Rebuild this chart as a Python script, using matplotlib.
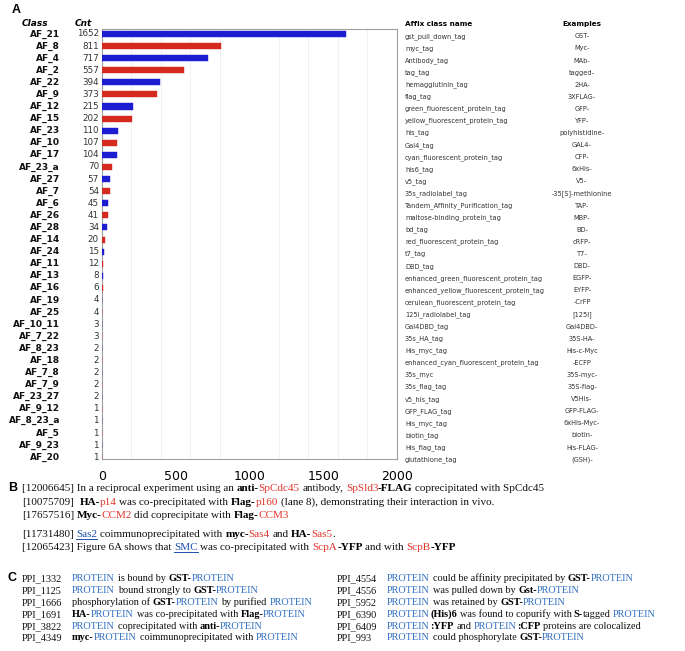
import matplotlib
matplotlib.use("Agg")
import matplotlib.pyplot as plt
from matplotlib.font_manager import FontProperties
from matplotlib.lines import Line2D
from matplotlib.textpath import text_to_path
from matplotlib.transforms import IdentityTransform, blended_transform_factory


# -----------------------------
# Panel A data
# -----------------------------
CLASSES = [
    "AF_21", "AF_8", "AF_4", "AF_2", "AF_22", "AF_9", "AF_12", "AF_15",
    "AF_23", "AF_10", "AF_17", "AF_23_a", "AF_27", "AF_7", "AF_6", "AF_26",
    "AF_28", "AF_14", "AF_24", "AF_11", "AF_13", "AF_16", "AF_19", "AF_25",
    "AF_10_11", "AF_7_22", "AF_8_23", "AF_18", "AF_7_8", "AF_7_9",
    "AF_23_27", "AF_9_12", "AF_8_23_a", "AF_5", "AF_9_23", "AF_20",
]
COUNTS = [
    1652, 811, 717, 557, 394, 373, 215, 202, 110, 107, 104, 70, 57, 54, 45,
    41, 34, 20, 15, 12, 8, 6, 4, 4, 3, 3, 2, 2, 2, 2, 2, 1, 1, 1, 1, 1,
]
AFFIX_NAMES = [
    "gst_pull_down_tag", "myc_tag", "Antibody_tag", "tag_tag",
    "hemagglutinin_tag", "flag_tag", "green_fluorescent_protein_tag",
    "yellow_fluorescent_protein_tag", "his_tag", "Gal4_tag",
    "cyan_fluorescent_protein_tag", "his6_tag", "v5_tag",
    "35s_radiolabel_tag", "Tandem_Affinity_Purification_tag",
    "maltose-binding_protein_tag", "bd_tag", "red_fluorescent_protein_tag",
    "t7_tag", "DBD_tag", "enhanced_green_fluorescent_protein_tag",
    "enhanced_yellow_fluorescent_protein_tag",
    "cerulean_fluorescent_protein_tag", "125i_radiolabel_tag", "Gal4DBD_tag",
    "35s_HA_tag", "His_myc_tag", "enhanced_cyan_fluorescent_protein_tag",
    "35s_myc", "35s_flag_tag", "v5_his_tag", "GFP_FLAG_tag", "His_myc_tag",
    "biotin_tag", "His_flag_tag", "glutathione_tag",
]
EXAMPLES = [
    "GST-", "Myc-", "MAb-", "tagged-", "2HA-", "3XFLAG-", "GFP-", "YFP-",
    "polyhistidine-", "GAL4-", "CFP-", "6xHis-", "V5-", "-35[S]-methionine",
    "TAP-", "MBP-", "BD-", "cRFP-", "T7-", "DBD-", "EGFP-", "EYFP-", "-CrFP",
    "[125I]", "Gal4DBD-", "35S-HA-", "His-c-Myc", "-ECFP", "35S-myc-",
    "35S-flag-", "V5His-", "GFP-FLAG-", "6xHis-Myc-", "biotin-", "His-FLAG-",
    "(GSH)-",
]
X_TICKS = [0, 500, 1000, 1500, 2000]

# -----------------------------
# Panel B / C sentences
# styles: n normal, b bold, r red, u underlined link, p blue protein
# -----------------------------
B_LINES = [
    [("[12006645] In a reciprocal experiment using an ", "n"), ("anti-", "b"),
     ("SpCdc45", "r"), (" antibody, ", "n"), ("SpSld3", "r"), ("-FLAG", "b"),
     (" coprecipitated with SpCdc45", "n")],
    [("[10075709]  ", "n"), ("HA-", "b"), ("p14", "r"),
     (" was co-precipitated with ", "n"), ("Flag-", "b"), ("p160", "r"),
     (" (lane 8), demonstrating their interaction in vivo.", "n")],
    [("[17657516] ", "n"), ("Myc-", "b"), ("CCM2", "r"),
     (" did coprecipitate with ", "n"), ("Flag-", "b"), ("CCM3", "r")],
    [("[11731480] ", "n"), ("Sas2", "u"), (" coimmunoprecipitated with ", "n"),
     ("myc-", "b"), ("Sas4", "r"), (" and ", "n"), ("HA-", "b"), ("Sas5", "r"),
     (".", "n")],
    [("[12065423] Figure 6A shows that ", "n"), ("SMC", "u"),
     (" was co-precipitated with ", "n"), ("ScpA", "r"), ("-YFP", "b"),
     (" and with ", "n"), ("ScpB", "r"), ("-YFP", "b")],
]

C_LEFT_IDS = ["PPI_1332", "PPI_1125", "PPI_1666", "PPI_1691", "PPI_3822", "PPI_4349"]
C_LEFT = [
    [("PROTEIN", "p"), (" is bound by ", "n"), ("GST-", "b"), ("PROTEIN", "p")],
    [("PROTEIN", "p"), (" bound strongly to ", "n"), ("GST-", "b"), ("PROTEIN", "p")],
    [("phosphorylation of ", "n"), ("GST-", "b"), ("PROTEIN", "p"),
     (" by purified ", "n"), ("PROTEIN", "p")],
    [("HA-", "b"), ("PROTEIN", "p"), (" was co-precipitated with ", "n"),
     ("Flag-", "b"), ("PROTEIN", "p")],
    [("PROTEIN", "p"), (" coprecipitated with ", "n"), ("anti-", "b"), ("PROTEIN", "p")],
    [("myc-", "b"), ("PROTEIN", "p"), (" coimmunoprecipitated with ", "n"),
     ("PROTEIN", "p")],
]
C_RIGHT_IDS = ["PPI_4554", "PPI_4556", "PPI_5952", "PPI_6390", "PPI_6409", "PPI_993"]
C_RIGHT = [
    [("PROTEIN", "p"), (" could be affinity precipitated by ", "n"), ("GST-", "b"),
     ("PROTEIN", "p")],
    [("PROTEIN", "p"), (" was pulled down by ", "n"), ("Gst-", "b"), ("PROTEIN", "p")],
    [("PROTEIN", "p"), (" was retained by ", "n"), ("GST-", "b"), ("PROTEIN", "p")],
    [("PROTEIN", "p"), ("(His)6", "b"), (" was found to copurify with ", "n"),
     ("S-", "b"), ("tagged ", "n"), ("PROTEIN", "p")],
    [("PROTEIN", "p"), (":YFP", "b"), (" and ", "n"), ("PROTEIN", "p"), (":CFP", "b"),
     (" proteins are colocalized", "n")],
    [("PROTEIN", "p"), (" could phosphorylate ", "n"), ("GST-", "b"), ("PROTEIN", "p")],
]

STYLE_COLORS = {"n": "#111111", "b": "#000000", "r": "#e2352b",
                "u": "#1f4fae", "p": "#2f6fc2"}

W, H = 685, 651
fig = plt.figure(figsize=(W / 100, H / 100), dpi=100)


def text_width(s, fp):
    # unhinted outline width, converted from points to pixels
    w, _, _ = text_to_path.get_text_width_height_descent(s, fp, ismath=False)
    return w * fig.dpi / 72


def advance(s, fp):
    # pen advance of s, measured between two sentinel glyphs
    return text_width("H" + s + "H", fp) - text_width("HH", fp)


def draw_rich(x, y_top, parts, size, family="Liberation Serif"):
    # x, y_top in pixels from the top-left corner; y_top is the baseline
    y = H - y_top
    for s, style in parts:
        fp = FontProperties(family=family, size=size,
                            weight="bold" if style == "b" else "normal")
        lead = len(s) - len(s.lstrip(" "))
        body = s.strip(" ")
        x += advance(" " * lead, fp) if lead else 0
        if body:
            fig.text(x, y, body, transform=IdentityTransform(), fontproperties=fp,
                     color=STYLE_COLORS[style], ha="left", va="baseline")
            if style == "u":
                w = text_width(body, fp)
                fig.add_artist(Line2D([x, x + w], [y - 1.8, y - 1.8],
                                      transform=IdentityTransform(),
                                      color=STYLE_COLORS[style], lw=0.7))
        x += advance(s.lstrip(" "), fp)
    return x


# -----------------------------
# Panel A: bar chart
# -----------------------------
ax = fig.add_axes([101.7 / W, 1 - 459 / H, (397 - 101.7) / W, (459 - 29) / H])
rows = list(range(len(CLASSES)))
colors = ["#1c1cd0" if i % 2 == 0 else "#d42a20" for i in rows]
ax.barh(rows, COUNTS, height=0.5, color=colors, edgecolor=colors, lw=0.3, zorder=3)

ax.set_xlim(0, 2000)
ax.set_ylim(35.15, -0.41)
ax.set_xticks(X_TICKS)
ax.set_xticklabels([str(t) for t in X_TICKS], fontsize=9, family="DejaVu Sans")
ax.tick_params(axis="x", length=0, pad=8)
ax.set_yticks([])
ax.set_xticks(range(0, 2001, 200), minor=True)
ax.tick_params(axis="x", which="minor", length=0)
ax.grid(True, which="minor", axis="x", color="#ececec", lw=0.5, zorder=0)
for spine in ax.spines.values():
    spine.set_color("#a0a0a0")
    spine.set_linewidth(0.8)

row_trans = blended_transform_factory(fig.transFigure, ax.transData)
for i, (cls, cnt) in enumerate(zip(CLASSES, COUNTS)):
    ax.text(60 / W, i, cls, transform=row_trans, ha="right", va="center",
            fontsize=6.5, fontweight="bold", color="#111111", family="DejaVu Sans")
    ax.text(99 / W, i, str(cnt), transform=row_trans, ha="right", va="center",
            fontsize=6.3, color="#333333", family="DejaVu Sans")

for i, (name, ex) in enumerate(zip(AFFIX_NAMES, EXAMPLES)):
    ax.text(405 / W, i + 0.2, name, transform=row_trans, ha="left", va="center",
            fontsize=4.8, color="#333333", family="DejaVu Sans")
    ax.text(582 / W, i + 0.2, ex, transform=row_trans, ha="center", va="center",
            fontsize=4.8, color="#333333", family="DejaVu Sans")

head_y = -0.83
ax.text(22 / W, head_y, "Class", transform=row_trans, ha="left", va="center",
        fontsize=6.5, fontweight="bold", style="italic", family="DejaVu Sans")
ax.text(75 / W, head_y, "Cnt", transform=row_trans, ha="left", va="center",
        fontsize=6.5, fontweight="bold", style="italic", family="DejaVu Sans")
ax.text(405 / W, head_y, "Affix class name", transform=row_trans, ha="left",
        va="center", fontsize=5.2, fontweight="bold", family="DejaVu Sans")
ax.text(582 / W, head_y, "Examples", transform=row_trans, ha="center",
        va="center", fontsize=5.2, fontweight="bold", family="DejaVu Sans")

# -----------------------------
# Panel labels
# -----------------------------
for label, x, y in [("A", 12, 10), ("B", 8, 488), ("C", 8, 578)]:
    fig.text(x / W, 1 - y / H, label, ha="left", va="center", fontsize=9,
             fontweight="bold", family="Liberation Sans")

# -----------------------------
# Panel B
# -----------------------------
for line, y in zip(B_LINES, [491, 505, 518, 537, 550]):
    draw_rich(22, y, line, 8.0)

# -----------------------------
# Panel C
# -----------------------------
c_rows = [581, 593, 605, 617, 629, 640]
for y, pid, parts in zip(c_rows, C_LEFT_IDS, C_LEFT):
    draw_rich(22, y, [(pid, "n")], 7.4)
    draw_rich(72, y, parts, 7.4)
for y, pid, parts in zip(c_rows, C_RIGHT_IDS, C_RIGHT):
    draw_rich(337, y, [(pid, "n")], 7.4)
    draw_rich(387, y, parts, 7.4)

fig.savefig("out.png", dpi=100)
plt.close(fig)
